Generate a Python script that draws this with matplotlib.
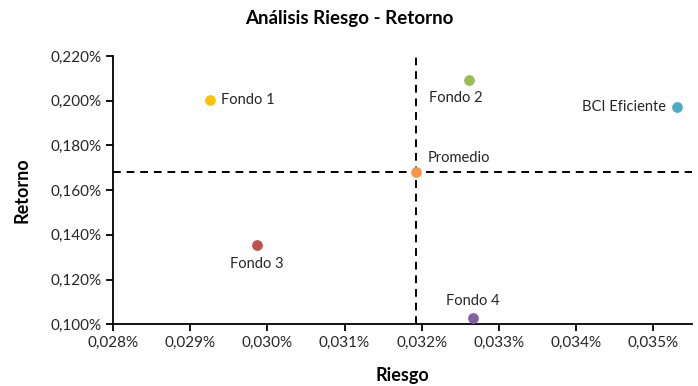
"""Risk vs return scatter: five funds plus their average, with quadrant lines."""

import matplotlib

matplotlib.use("Agg")
import matplotlib.pyplot as plt  # noqa: E402
from matplotlib.ticker import FuncFormatter, MultipleLocator  # noqa: E402

plt.rcParams["font.family"] = ["Lato", "DejaVu Sans"]

# values in percent
names = ["Fondo 1", "Fondo 2", "BCI Eficiente", "Fondo 3", "Fondo 4", "Promedio"]
riesgo = [0.02925, 0.03261, 0.03531, 0.02986, 0.03266, 0.03193]
retorno = [0.2002, 0.2091, 0.1973, 0.1355, 0.1030, 0.1683]
colors = ["#FFC000", "#9BBB59", "#4BACC6", "#C0504D", "#8064A2", "#F79646"]
# label placement per point: (dx, dy, ha, va) in points
label_pos = [
    (8, 0, "left", "center"),
    (-9, -8, "center", "top"),
    (-8, 0, "right", "center"),
    (0, -9, "center", "top"),
    (0, 7, "center", "bottom"),
    (8, 5, "left", "bottom"),
]


def pct(v, _pos):
    return f"{v:.3f}%".replace(".", ",")


fig = plt.figure(figsize=(6.98, 3.86), dpi=100)
ax = fig.add_axes([0.162, 0.160, 0.829, 0.695])

prom_x, prom_y = riesgo[-1], retorno[-1]
ax.axhline(prom_y, color="black", lw=1.4, ls=(0, (4, 3)), zorder=1)
ax.axvline(prom_x, color="black", lw=1.4, ls=(0, (4, 3)), zorder=1)

for name, x, y, c, (dx, dy, ha, va) in zip(names, riesgo, retorno, colors, label_pos):
    ax.scatter([x], [y], s=60, color=c, linewidths=0, zorder=3)
    ax.annotate(name, (x, y), xytext=(dx, dy), textcoords="offset points",
                ha=ha, va=va, fontsize=10.5, color="#262626")

ax.set_xlim(0.028, 0.0355)
ax.set_ylim(0.100, 0.220)
ax.xaxis.set_major_locator(MultipleLocator(0.001))
ax.yaxis.set_major_locator(MultipleLocator(0.020))
ax.xaxis.set_major_formatter(FuncFormatter(pct))
ax.yaxis.set_major_formatter(FuncFormatter(pct))

for side in ("top", "right"):
    ax.spines[side].set_visible(False)
for side in ("left", "bottom"):
    ax.spines[side].set_linewidth(1.3)
ax.tick_params(direction="out", length=5, width=1.3, labelsize=11,
               labelcolor="#262626")

ax.set_xlabel("Riesgo", fontsize=13, fontweight="bold", labelpad=12)
ax.set_ylabel("Retorno", fontsize=13, fontweight="bold", labelpad=14)
fig.suptitle("Análisis Riesgo - Retorno", fontsize=13.5, fontweight="bold", y=0.975)

fig.savefig("out.png", dpi=100)
